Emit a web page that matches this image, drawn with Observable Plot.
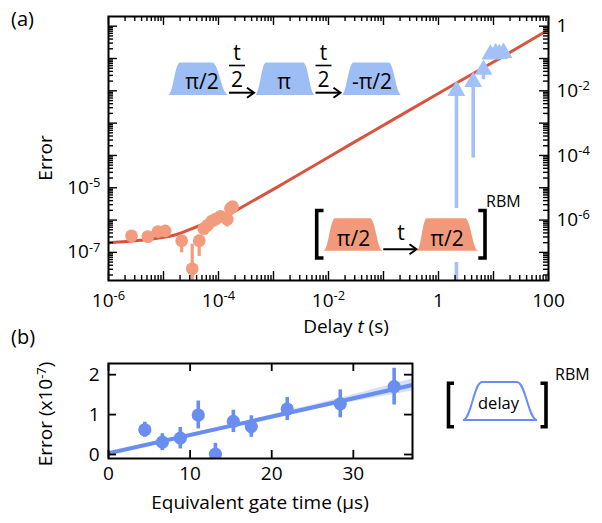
<!DOCTYPE html>
<html><head><meta charset="utf-8">
<script src="https://cdn.jsdelivr.net/npm/d3@7"></script>
<script src="https://cdn.jsdelivr.net/npm/@observablehq/plot@0.6"></script>
<style>
html,body{margin:0;padding:0;background:#fff;}
#root{position:relative;width:602px;height:523px;overflow:hidden;}
#root > svg{position:absolute;left:0;}
</style></head><body><div id="root"></div>
<script>
// ---------- data: panel (a) ----------
const fitCurveT = [1e-6, 3.8e-6, 1.54e-5, 4.7e-5, 1.25e-4, 3.8e-4, 1.17e-3, 3.1e-3, 0.025, 0.204, 1.65, 13.4, 100];
const fitCurveE = [2.0e-7, 2.36e-7, 3.38e-7, 6.9e-7, 1.25e-6, 3.55e-6, 1.05e-5, 2.75e-5, 2.2e-4, 1.74e-3, 0.0136, 0.104, 0.78];
const ramseyT  = [2.62e-6, 5.19e-6, 7.94e-6, 1.07e-5, 2.14e-5, 3.33e-5, 4.46e-5, 5.4e-5, 6.3e-5, 7.5e-5, 8.8e-5, 1.09e-4, 1.44e-4, 1.65e-4, 1.8e-4];
const ramseyE  = [3.25e-7, 3.08e-7, 4.4e-7, 4.6e-7, 2.3e-7, 3.1e-8, 2.3e-7, 5.4e-7, 6.9e-7, 9.2e-7, 1.06e-6, 1.31e-6, 1.06e-6, 2.28e-6, 2.6e-6];
const ramseyLo = [null, null, null, null, 9.7e-8, 1e-10, 7.5e-8, null, null, null, null, null, 6.1e-7, null, null];
const ramseyHi = [null, null, null, null, 3.0e-7, 1.78e-7, 2.9e-7, null, null, null, null, null, 1.4e-6, null, null];
const echoT  = [2.12, 4.27, 6.58, 8.8, 10.9, 12.7, 15.2];
const echoE  = [0.010, 0.019, 0.045, 0.135, 0.145, 0.14, 0.15];
const echoLo = [1e-10, 8.3e-5, 0.022, null, null, null, null];
const aXLabelTicks = [1e-6, 1e-4, 1e-2, 1, 100];
const aYLeftLabelTicks = [1e-5, 1e-7];
const aYRightLabelTicks = [1, 1e-2, 1e-4, 1e-6];

// ---------- data: panel (b) ----------
const gateX   = [4.45, 6.6, 8.8, 11.0, 13.1, 15.3, 17.5, 21.9, 28.4, 35.0];
const gateErr = [0.62, 0.31, 0.41, 0.99, 0.01, 0.83, 0.70, 1.14, 1.27, 1.70];
const gateSd  = [0.19, 0.21, 0.27, 0.35, 0.27, 0.28, 0.27, 0.29, 0.35, 0.46];
const lineX = [0, 37.25];
const lineY = [0.03, 1.74];
const bandX  = [0, 10, 17, 25, 30, 37.25];
const bandLo = [0.0, 0.46, 0.775, 1.12, 1.32, 1.59];
const bandHi = [0.06, 0.52, 0.845, 1.24, 1.50, 1.89];
const bXTicks = [0, 10, 20, 30];
const bYTicks = [0, 1, 2];

// ---------- styles ----------
const FONT = '"Open Sans", sans-serif';
const RED = "#d9533f", ORANGE = "#f39c7d", LBLUE = "#a2c1f8", TRAPBLUE = "#9dbdf5",
      SALMON = "#f19a7b", BLUE = "#6a8ef0", BAND = "#d6e0fb";

const root = document.getElementById("root");

// ---------- panel (a) ----------
const A = {w: 602, h: 310, ml: 108, mr: 54, mt: 16, mb: 30};
const AFW = A.w - A.ml - A.mr, AFH = A.h - A.mt - A.mb;
const aXDomain = [1e-6, 100];
const aYDomain = [Math.pow(10, -7.87), Math.pow(10, 0.30)];
const isDecade = d => Math.abs(Math.log10(d) - Math.round(Math.log10(d))) < 1e-6;
const axAll = d3.scaleLog().domain(aXDomain).ticks();
const ayAll = d3.scaleLog().domain(aYDomain).ticks().filter(d => d >= aYDomain[0] && d <= aYDomain[1]);
const axMaj = axAll.filter(isDecade), axMin = axAll.filter(d => !isDecade(d));
const ayMaj = ayAll.filter(isDecade), ayMin = ayAll.filter(d => !isDecade(d));
const logFmt = d => d === 1 ? "1" : d === 100 ? "100" : "10^" + Math.round(Math.log10(d));

const curve = fitCurveT.map((t, i) => ({t, E: fitCurveE[i]}));
const ramsey = ramseyT.map((t, i) => ({t, E: ramseyE[i], lo: ramseyLo[i], hi: ramseyHi[i]}));
const echo = echoT.map((t, i) => ({t, E: echoE[i], lo: echoLo[i]}));

const MAJ = 9, MIN = 5;
const tickStyle = {stroke: "black", strokeWidth: 1.4};
const plotA = Plot.plot({
  width: A.w, height: A.h,
  marginLeft: A.ml, marginRight: A.mr, marginTop: A.mt, marginBottom: A.mb,
  x: {type: "log", domain: aXDomain},
  y: {type: "log", domain: aYDomain},
  style: {fontFamily: FONT, fontSize: "19px", overflow: "visible", color: "black"},
  marks: [
    Plot.line(curve, {x: "t", y: "E", stroke: RED, strokeWidth: 3, curve: "catmull-rom", clip: true}),
    Plot.ruleX(ramsey.filter(d => d.lo != null), {x: "t", y1: "lo", y2: "hi", stroke: ORANGE, strokeWidth: 3.2, clip: true}),
    Plot.dot(ramsey, {x: "t", y: "E", r: 6.4, fill: ORANGE, clip: true}),
    Plot.ruleX(echo.filter(d => d.lo != null), {x: "t", y1: "lo", y2: "E", stroke: LBLUE, strokeWidth: 3.6, clip: true}),
    Plot.dot(echo, {x: "t", y: "E", r: 6.6, symbol: "triangle", fill: LBLUE}),
    // inward ticks on all four sides
    Plot.tickX(axMaj, {x: d => d, insetTop: AFH - MAJ, ...tickStyle}),
    Plot.tickX(axMin, {x: d => d, insetTop: AFH - MIN, ...tickStyle}),
    Plot.tickX(axMaj, {x: d => d, insetBottom: AFH - MAJ, ...tickStyle}),
    Plot.tickX(axMin, {x: d => d, insetBottom: AFH - MIN, ...tickStyle}),
    Plot.tickY(ayMaj, {y: d => d, insetRight: AFW - MAJ, ...tickStyle}),
    Plot.tickY(ayMin, {y: d => d, insetRight: AFW - MIN, ...tickStyle}),
    Plot.tickY(ayMaj, {y: d => d, insetLeft: AFW - MAJ, ...tickStyle}),
    Plot.tickY(ayMin, {y: d => d, insetLeft: AFW - MIN, ...tickStyle}),
    Plot.axisX(aXLabelTicks, {anchor: "bottom", tickSize: 0, tickPadding: 13, tickFormat: logFmt, label: null}),
    Plot.axisY(aYLeftLabelTicks, {anchor: "left", tickSize: 0, tickPadding: 8, tickFormat: logFmt, label: null}),
    Plot.axisY(aYRightLabelTicks, {anchor: "right", tickSize: 0, tickPadding: 8, tickFormat: logFmt, label: null}),
    Plot.frame({stroke: "black", strokeWidth: 2})
  ]
});
plotA.style.top = "0px";
root.appendChild(plotA);

// ---------- panel (b) ----------
const B = {w: 602, h: 183, ml: 108, mr: 190, mt: 23, mb: 65, top: 340};
const BFW = B.w - B.ml - B.mr, BFH = B.h - B.mt - B.mb;
const gate = gateX.map((x, i) => ({x, y: gateErr[i], lo: gateErr[i] - gateSd[i], hi: gateErr[i] + gateSd[i]}));
const band = bandX.map((x, i) => ({x, lo: bandLo[i], hi: bandHi[i]}));
const fit = lineX.map((x, i) => ({x, y: lineY[i]}));
const BT = 8;
const plotB = Plot.plot({
  width: B.w, height: B.h,
  marginLeft: B.ml, marginRight: B.mr, marginTop: B.mt, marginBottom: B.mb,
  x: {domain: [0, 37.25]},
  y: {domain: [-0.1, 2.28]},
  style: {fontFamily: FONT, fontSize: "19px", overflow: "visible", color: "black", background: "transparent"},
  marks: [
    Plot.areaY(band, {x: "x", y1: "lo", y2: "hi", fill: BAND, clip: true}),
    Plot.line(fit, {x: "x", y: "y", stroke: BLUE, strokeWidth: 4, clip: true}),
    Plot.ruleX(gate, {x: "x", y1: "lo", y2: "hi", stroke: BLUE, strokeWidth: 3.6, clip: true}),
    Plot.dot(gate, {x: "x", y: "y", r: 6.6, fill: BLUE, clip: true}),
    Plot.tickX(bXTicks, {x: d => d, insetTop: BFH - BT, ...tickStyle, strokeWidth: 1.8}),
    Plot.tickX(bXTicks, {x: d => d, insetBottom: BFH - BT, ...tickStyle, strokeWidth: 1.8}),
    Plot.tickY(bYTicks, {y: d => d, insetRight: BFW - BT, ...tickStyle, strokeWidth: 1.8}),
    Plot.tickY(bYTicks, {y: d => d, insetLeft: BFW - BT, ...tickStyle, strokeWidth: 1.8}),
    Plot.axisX(bXTicks, {anchor: "bottom", tickSize: 0, tickPadding: 8, label: null}),
    Plot.axisY(bYTicks, {anchor: "left", tickSize: 0, tickPadding: 9, label: null}),
    Plot.frame({stroke: "black", strokeWidth: 2})
  ]
});
plotB.style.top = B.top + "px";
root.appendChild(plotB);

// superscript tick labels like 10^-6
function superscriptify(svg) {
  d3.select(svg).selectAll("text").each(function () {
    const m = /^10\^(-?\d+)$/.exec(this.textContent);
    if (!m) return;
    const t = d3.select(this);
    t.text(null);
    t.append("tspan").text("10");
    t.append("tspan").attr("dy", "-0.52em").attr("font-size", "0.68em").text(m[1]);
  });
}
superscriptify(plotA);

// ---------- overlay: labels and pulse-sequence insets ----------
const ov = d3.create("svg").attr("width", 602).attr("height", 523)
  .style("top", "0px").style("font-family", FONT).style("overflow", "visible");
root.appendChild(ov.node());

function txt(x, y, s, size, anchor = "middle", extra) {
  const t = ov.append("text").attr("x", x).attr("y", y).attr("font-size", size)
    .attr("text-anchor", anchor).attr("fill", "black");
  if (typeof s === "string") t.text(s); else s(t);
  if (extra) extra(t);
  return t;
}
function trap(x0, x1, x2, x3, yt, yb, fill, stroke) {
  const dl = x1 - x0, dr = x3 - x2, k = 0.42;
  const p = `M${x0},${yb} C${x0 + dl * k},${yb} ${x1 - dl * k},${yt} ${x1},${yt} L${x2},${yt} ` +
            `C${x2 + dr * k},${yt} ${x3 - dr * k},${yb} ${x3},${yb} Z`;
  ov.append("path").attr("d", p).attr("fill", fill || "none")
    .attr("stroke", stroke || "none").attr("stroke-width", stroke ? 2 : 0);
}
function arrow(x1, x2, y) {
  ov.append("line").attr("x1", x1).attr("x2", x2 - 1).attr("y1", y).attr("y2", y)
    .attr("stroke", "black").attr("stroke-width", 2);
  ov.append("path").attr("d", `M${x2 - 7},${y - 5} L${x2},${y} L${x2 - 7},${y + 5}`)
    .attr("fill", "none").attr("stroke", "black").attr("stroke-width", 2);
}
function bracket(xv, xa, y1, y2) {
  ov.append("path").attr("d", `M${xa},${y1} H${xv} V${y2} H${xa}`)
    .attr("fill", "none").attr("stroke", "black").attr("stroke-width", 3.6);
}
function frac(cx, yt, yline, yb, size) {
  txt(cx, yt, "t", size);
  ov.append("line").attr("x1", cx - 8).attr("x2", cx + 8).attr("y1", yline).attr("y2", yline)
    .attr("stroke", "black").attr("stroke-width", 1.6);
  txt(cx, yb, "2", size);
}

// panel labels
txt(11, 26, "(a)", 20, "start");
txt(11, 344, "(b)", 20, "start");
// panel (a) axis titles
txt(0, 0, "Error", 19, "middle", t => t.attr("transform", "translate(52,158) rotate(-90)"));
txt(346, 333, t => {
  t.append("tspan").text("Delay ");
  t.append("tspan").attr("font-style", "italic").text("t");
  t.append("tspan").text(" (s)");
}, 19);
// panel (b) axis titles
txt(0, 0, t => {
  t.append("tspan").text("Error (x10");
  t.append("tspan").attr("dy", "-0.5em").attr("font-size", "0.68em").text("-7");
  t.append("tspan").attr("dy", "0.34em").text(")");
}, 19, "middle", t => t.attr("transform", "translate(52,414) rotate(-90)"));
txt(260, 509, "Equivalent gate time (µs)", 19);

// top inset in (a): π/2 —t/2→ π —t/2→ -π/2
const LS = 21;
trap(168, 180, 212, 228.5, 62.5, 95, TRAPBLUE);
txt(202, 88.5, "π/2", LS);
arrow(229, 254, 92.7);
frac(237, 60, 65.5, 86.5, LS);
trap(255, 266, 303, 315, 62.5, 95, TRAPBLUE);
txt(284, 88.5, "π", LS);
arrow(315.5, 340.5, 92.7);
frac(323.5, 60, 65.5, 86.5, LS);
trap(341.5, 353.5, 388.5, 401.5, 62.5, 95, TRAPBLUE);
txt(372, 88.5, "-π/2", LS);

// bottom inset in (a): [ π/2 —t→ π/2 ]^RBM  (white backing covers the data behind it)
ov.append("rect").attr("x", 312).attr("y", 208).attr("width", 178).attr("height", 54).attr("fill", "white");
bracket(316.7, 323.5, 210.5, 258);
trap(323.5, 335, 370, 382.7, 218.3, 250.7, SALMON);
txt(353.5, 245.5, "π/2", LS);
arrow(383.3, 416.5, 249.3);
txt(401, 240, "t", LS);
trap(416.7, 426.7, 465, 478.3, 218.3, 250.7, SALMON);
txt(447, 245.5, "π/2", LS);
bracket(485, 478.3, 210.5, 258);
txt(486, 206.5, "RBM", 16, "start");

// inset in (b): [ delay ]^RBM
bracket(448.5, 454, 383.3, 426.7);
trap(463, 482, 517, 537, 382, 420, null, BLUE);
txt(498.5, 409, "delay", 16.5);
bracket(546, 540.5, 383.3, 426.7);
txt(555, 380, "RBM", 16, "start");
</script></body></html>
